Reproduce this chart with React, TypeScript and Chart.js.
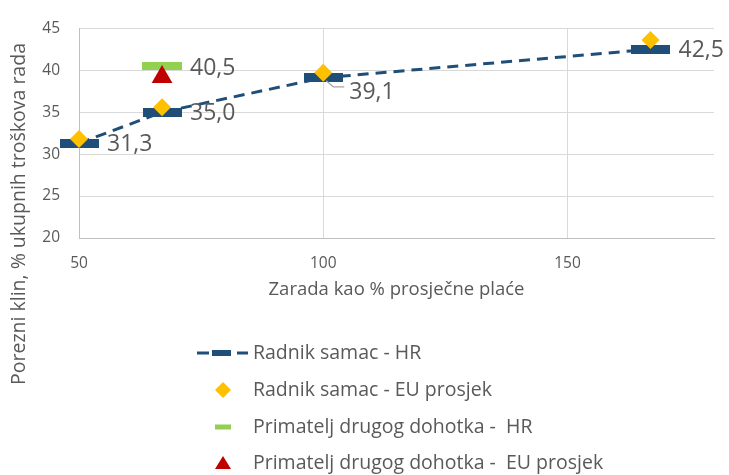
import React, { useEffect, useRef } from "react";
import { Chart, registerables } from "chart.js";

Chart.register(...registerables);

// ---- data ----
const earningsX = [50, 67, 100, 167];
const singleHR = [31.3, 35.0, 39.1, 42.5];
const singleEU = [31.8, 35.6, 39.7, 43.6];
const secondEarnerX = [67];
const secondHR = [40.5];
const secondEU = [39.2];
const xTickValues = [50, 100, 150];
const seriesNames = [
  "Radnik samac - HR",
  "Radnik samac - EU prosjek",
  "Primatelj drugog dohotka -  HR",
  "Primatelj drugog dohotka -  EU prosjek",
];
const xTitle = "Zarada kao % prosječne plaće";
const yTitle = "Porezni klin, % ukupnih troškova rada";

// ---- styles ----
const BLUE = "#1F4E79";
const GOLD = "#FFC000";
const GREEN = "#92D050";
const RED = "#C00000";
const TEXT = "#595959";
const GRID = "#D9D9D9";
const FONT = "'Open Sans', 'Liberation Sans', sans-serif";

function barMarker(color: string, w: number, h: number) {
  const c = document.createElement("canvas");
  c.width = w;
  c.height = h;
  const g = c.getContext("2d")!;
  g.fillStyle = color;
  g.fillRect(0, 0, w, h);
  return c;
}

const fmt = (v: number) => v.toFixed(1).replace(".", ",");

const customPlugin = {
  id: "customDecor",
  afterDatasetsDraw(chart: any) {
    const ctx = chart.ctx;
    ctx.save();
    ctx.font = `23px ${FONT}`;
    ctx.fillStyle = TEXT;
    ctx.textAlign = "left";
    ctx.textBaseline = "middle";
    const meta0 = chart.getDatasetMeta(0);
    meta0.data.forEach((pt: any, i: number) => {
      const v = singleHR[i];
      if (i === 2) {
        ctx.strokeStyle = "#A6A6A6";
        ctx.lineWidth = 1.2;
        ctx.beginPath();
        ctx.moveTo(pt.x + 3, pt.y + 3);
        ctx.lineTo(pt.x + 10, pt.y + 9);
        ctx.lineTo(pt.x + 21, pt.y + 9);
        ctx.stroke();
        ctx.fillText(fmt(v), pt.x + 26, pt.y + 15);
      } else {
        ctx.fillText(fmt(v), pt.x + 28, pt.y + 1);
      }
    });
    const meta2 = chart.getDatasetMeta(2);
    meta2.data.forEach((pt: any, i: number) => {
      ctx.fillText(fmt(secondHR[i]), pt.x + 28, pt.y + 2);
    });
    ctx.restore();
  },
  afterDraw(chart: any) {
    const ctx = chart.ctx;
    ctx.save();
    ctx.fillStyle = TEXT;
    ctx.font = `19.5px ${FONT}`;
    ctx.textAlign = "center";
    ctx.textBaseline = "middle";
    ctx.translate(19, 214);
    ctx.rotate(-Math.PI / 2);
    ctx.fillText(yTitle, 0, 0);
    ctx.restore();

    ctx.save();
    const rows = [353, 390, 427, 463];
    const sx = 223;
    ctx.strokeStyle = BLUE;
    ctx.lineWidth = 3;
    ctx.beginPath();
    ctx.moveTo(197, rows[0]);
    ctx.lineTo(209, rows[0]);
    ctx.moveTo(237, rows[0]);
    ctx.lineTo(248, rows[0]);
    ctx.stroke();
    ctx.fillStyle = BLUE;
    ctx.fillRect(212, rows[0] - 3, 19, 6);
    ctx.fillStyle = GOLD;
    ctx.beginPath();
    ctx.moveTo(sx, rows[1] - 8);
    ctx.lineTo(sx + 8, rows[1]);
    ctx.lineTo(sx, rows[1] + 8);
    ctx.lineTo(sx - 8, rows[1]);
    ctx.closePath();
    ctx.fill();
    ctx.fillStyle = GREEN;
    ctx.fillRect(sx - 8, rows[2] - 2.5, 16, 5);
    ctx.fillStyle = RED;
    ctx.beginPath();
    ctx.moveTo(sx, rows[3] - 7);
    ctx.lineTo(sx + 8, rows[3] + 6);
    ctx.lineTo(sx - 8, rows[3] + 6);
    ctx.closePath();
    ctx.fill();
    ctx.fillStyle = TEXT;
    ctx.font = `19.5px ${FONT}`;
    ctx.textAlign = "left";
    ctx.textBaseline = "middle";
    seriesNames.forEach((n, i) => ctx.fillText(n, 253, rows[i]));
    ctx.restore();
  },
};

export default function App() {
  const ref = useRef<HTMLCanvasElement | null>(null);

  useEffect(() => {
    if (!ref.current) return;
    const chart = new Chart(ref.current, {
      type: "scatter",
      data: {
        datasets: [
          {
            label: seriesNames[0],
            data: earningsX.map((x, i) => ({ x, y: singleHR[i] })),
            showLine: true,
            borderColor: BLUE,
            backgroundColor: BLUE,
            borderWidth: 3,
            borderDash: [11, 7],
            tension: 0,
            pointStyle: barMarker(BLUE, 39, 9) as any,
            pointRadius: 6,
            clip: false as any,
            order: 2,
          },
          {
            label: seriesNames[1],
            data: earningsX.map((x, i) => ({ x, y: singleEU[i] })),
            showLine: false,
            pointStyle: "rectRot",
            pointRadius: 9,
            borderWidth: 0,
            backgroundColor: GOLD,
            borderColor: GOLD,
            clip: false as any,
            order: 0,
          },
          {
            label: seriesNames[2],
            data: secondEarnerX.map((x, i) => ({ x, y: secondHR[i] })),
            showLine: false,
            pointStyle: barMarker(GREEN, 40, 8) as any,
            pointRadius: 6,
            backgroundColor: GREEN,
            borderColor: GREEN,
            clip: false as any,
            order: 1,
          },
          {
            label: seriesNames[3],
            data: secondEarnerX.map((x, i) => ({ x, y: secondEU[i] })),
            showLine: false,
            pointStyle: "triangle",
            pointRadius: 12,
            borderWidth: 0,
            backgroundColor: RED,
            borderColor: RED,
            clip: false as any,
            order: 0,
          },
        ],
      },
      options: {
        animation: false,
        responsive: false,
        maintainAspectRatio: false,
        layout: { padding: { left: 0, right: 15, top: 24, bottom: 167 } },
        plugins: {
          legend: { display: false },
          tooltip: { enabled: false },
        },
        scales: {
          x: {
            type: "linear",
            min: 50,
            max: 180,
            afterBuildTicks: (s: any) => {
              s.ticks = xTickValues.map((v) => ({ value: v }));
            },
            afterFit: (s: any) => {
              s.height = 70;
            },
            grid: { color: GRID, lineWidth: 1, drawTicks: false },
            border: { color: "#BFBFBF", width: 1 },
            ticks: {
              color: TEXT,
              font: { family: FONT, size: 15.5 },
              padding: 16,
              maxRotation: 0,
            },
            title: {
              display: true,
              text: xTitle,
              color: TEXT,
              font: { family: FONT, size: 18.5 },
              align: "center",
              padding: { top: 0, bottom: 7 },
            },
          },
          y: {
            type: "linear",
            min: 20,
            max: 45,
            afterFit: (s: any) => {
              s.width = 79;
            },
            grid: { color: GRID, lineWidth: 1, drawTicks: false },
            border: { color: "#BFBFBF", width: 1 },
            ticks: {
              stepSize: 5,
              color: TEXT,
              font: { family: FONT, size: 15.5 },
              padding: 19,
            },
          },
        },
      },
      plugins: [customPlugin],
    });
    return () => chart.destroy();
  }, []);

  return (
    <div style={{ position: "fixed", left: 0, top: 0, width: 729, height: 475, background: "#fff" }}>
      <canvas ref={ref} width={729} height={475} style={{ width: 729, height: 475 }} />
    </div>
  );
}
